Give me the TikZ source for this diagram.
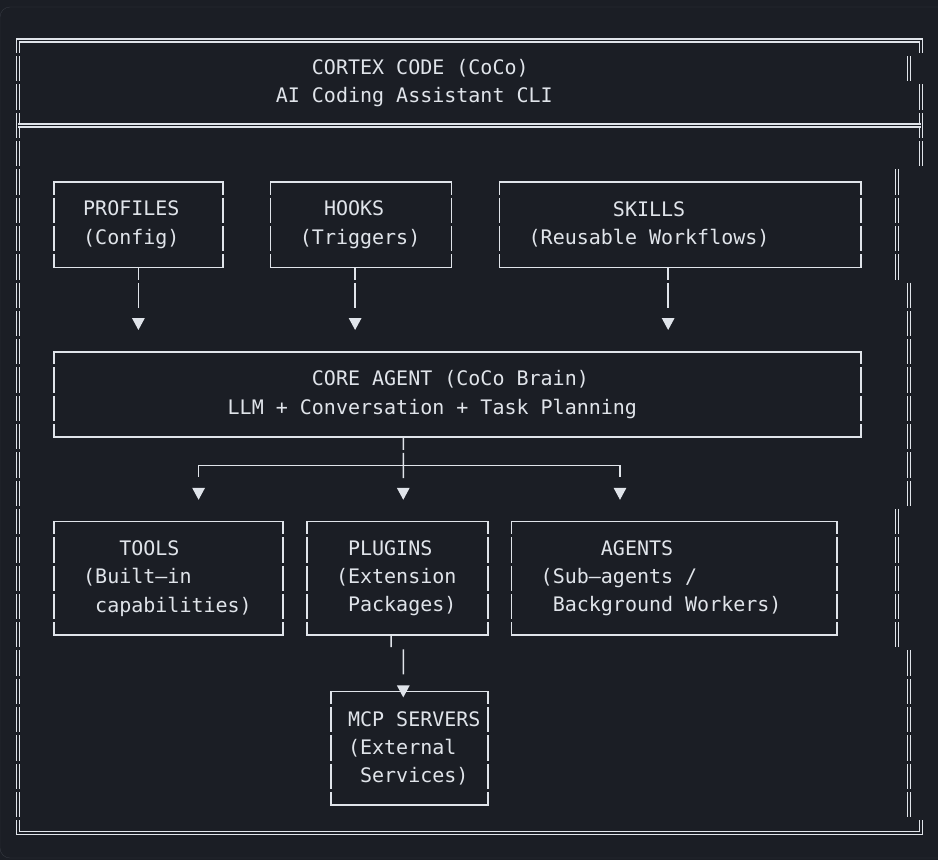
\documentclass[tikz,border=0pt]{standalone}
\usepackage{fontspec}
\usetikzlibrary{arrows.meta, positioning}
\newfontfamily\termfont{DejaVu Sans Mono}
\definecolor{termbg}{RGB}{27,30,37}
\definecolor{termedge}{RGB}{52,56,64}
\definecolor{termink}{RGB}{224,228,234}
\newlength\charw
\setlength\charw{12.04pt}
\newcommand{\pad}[1]{\hspace*{#1\charw}}
\tikzset{
    wire/.style={draw=termink, line width=1.5pt},
    dbl/.style={draw=termink, line width=1.3pt, double=termbg, double distance=1.7pt},
    rowdash/.style={dash pattern=on 25.3pt off 3pt},
    boxside/.style={dash pattern=on 25.3pt off 3pt, dash phase=12.65pt},
    termbox/.style={anchor=north west, inner xsep=5pt, inner ysep=0pt, align=left, text=termink,
        font=\termfont\fontsize{20}{28.3}\selectfont,
        execute at begin node={\spaceskip=\charw\relax\xspaceskip=\charw\relax}},
    flow/.style={wire, -{Triangle[length=12pt, width=12.5pt]}, shorten >=21.8pt, dash pattern=on 12.65pt off 3pt on 25.3pt off 20pt}
}

\begin{document}
\begin{tikzpicture}[x=12.04pt, y=-28.3pt]

    % terminal panel
    \begin{scope}[x=1pt, y=-1pt, shift={(-17.8pt,40.5pt)}]
        \useasboundingbox (0,0) rectangle (938,860);
        \fill[termbg] (0,0) rectangle (938,860);
        \filldraw[fill=termbg, draw=termedge, rounded corners=10pt] (0,7) rectangle (960,858);
    \end{scope}

    % Outer double frame
    \foreach \x/\a/\b in {0/1/27, 74/1/1, 75/2/4, 73/5/8, 74/9/16, 73/17/21, 74/22/27}
        \draw[dbl, rowdash] (\x,\a-0.447) -- (\x,\b+0.447);
    \draw[dbl] (0,0.447) -- (0,0) -- (75,0) -- (75,0.447);
    \draw[dbl] (0,27.553) -- (0,28) -- (75,28) -- (75,27.553);
    \draw[dbl] (0,3) -- (75,3);

    \node[termbox, text width=893pt, minimum height=84.9pt] (header) at (0,0) {\pad{24}CORTEX CODE (CoCo)\\\pad{21}AI Coding Assistant CLI};

    % Inputs
    \node[termbox, text width=158.56pt, minimum height=84.9pt] (profiles) at (3,5) {\pad{2}PROFILES\\\pad{2}(Config)};
    \node[termbox, text width=170.6pt, minimum height=84.9pt] (hooks) at (21,5) {\pad{4}HOOKS\\\pad{2}(Triggers)};
    \node[termbox, text width=351.2pt, minimum height=84.9pt] (skills) at (40,5) {\pad{9}SKILLS\\\pad{2}(Reusable Workflows)};

    % Core
    \node[termbox, text width=796.68pt, minimum height=84.9pt] (core) at (3,11) {\pad{21}CORE AGENT (CoCo Brain)\\\pad{14}LLM + Conversation + Task Planning};

    % Outputs
    \node[termbox, text width=218.76pt, minimum height=113.2pt] (tools) at (3,17) {\pad{5}TOOLS\\\pad{2}(Built–in\\\pad{3}capabilities)};
    \node[termbox, text width=170.6pt, minimum height=113.2pt] (plugins) at (24,17) {\pad{3}PLUGINS\\\pad{2}(Extension\\\pad{3}Packages)};
    \node[termbox, text width=315.08pt, minimum height=113.2pt] (agents) at (41,17) {\pad{7}AGENTS\\\pad{2}(Sub–agents /\\\pad{3}Background Workers)};
    \node[termbox, text width=146.52pt, minimum height=113.2pt] (mcp) at (26,23) {\pad{1}MCP SERVERS\\\pad{1}(External\\\pad{2}Services)};

    \foreach \n in {profiles, hooks, skills, core, tools, plugins, agents, mcp} {
        \draw[wire, line cap=rect] (\n.north west) -- (\n.north east) (\n.south west) -- (\n.south east);
        \draw[wire, boxside] (\n.north west) -- (\n.south west) (\n.north east) -- (\n.south east);
    }

    % Arrows
    \draw[flow] (profiles.south) -- (profiles.south |- core.north);
    \draw[flow] ([xshift=-6.02pt]hooks.south) -- ([xshift=-6.02pt]hooks.south |- core.north);
    \draw[flow] ([xshift=-12.04pt]skills.south) -- ([xshift=-12.04pt]skills.south |- core.north);

    \coordinate (split) at ([xshift=-54.18pt, yshift=-28.3pt]core.south);
    \draw[flow] ([xshift=-54.18pt]core.south) -- ([xshift=6.02pt]plugins.north);
    \draw[flow, dash pattern=on 216.7pt off 40pt] (split) -| ([xshift=30.1pt]tools.north);
    \draw[flow, dash pattern=on 228.7pt off 40pt] (split) -| ([xshift=-54.18pt]agents.north);

    \draw[flow, shorten >=0pt, dash pattern=on 25pt off 20pt] ([xshift=-6.02pt]plugins.south) -- ++(0,0.42) ++(1,0.08) -- ([xshift=-6.02pt, yshift=-6pt]mcp.north);

\end{tikzpicture}
\end{document}
